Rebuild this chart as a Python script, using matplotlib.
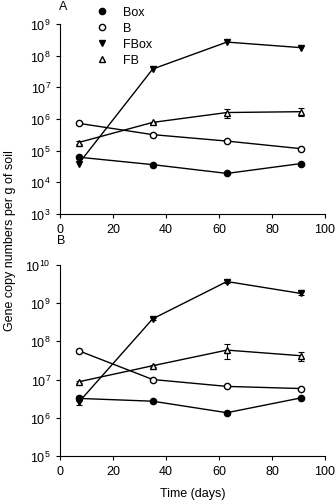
import numpy as np
import matplotlib.pyplot as plt
from matplotlib.lines import Line2D

plt.rcParams['font.family'] = ['Liberation Sans', 'DejaVu Sans']

# sampling days
days = [7, 35, 63, 91]

# panel A
box_a = [6.2e4, 3.6e4, 1.9e4, 3.9e4]
b_a = [7.3e5, 3.2e5, 2.0e5, 1.15e5]
fbox_a = [3.8e4, 3.8e7, 2.7e8, 1.8e8]
fb_a = [1.8e5, 7.8e5, 1.6e6, 1.7e6]
fb_a_err = [0.2e5, 0.5e5, 0.5e6, 0.45e6]

# panel B
box_b = [3.2e6, 2.7e6, 1.35e6, 3.3e6]
box_b_err = [0.5e6, 0.2e6, 0.1e6, 0.2e6]
b_b = [5.7e7, 1.0e7, 6.6e6, 5.8e6]
fbox_b = [2.5e6, 3.9e8, 3.7e9, 1.8e9]
fbox_b_err = [0.4e6, 0.3e8, 0.3e9, 0.15e9]
fb_b = [8.7e6, 2.3e7, 5.9e7, 4.2e7]
fb_b_err = [0.5e6, 1.5e6, 2.4e7, 1.1e7]

fig = plt.figure(figsize=(3.35, 5.02), dpi=100)
ax1 = fig.add_axes([0.179, 0.572, 0.791, 0.378])
ax2 = fig.add_axes([0.179, 0.090, 0.791, 0.380])

styles = [('Box', 'o', 'black'), ('B', 'o', 'white'), ('FBox', 'v', 'black'), ('FB', '^', 'white')]

def draw(ax, box, b, fbox, fb, fb_err, box_err=None, fbox_err=None):
    kw = dict(color='black', lw=1, ms=4.5, capsize=2, elinewidth=0.8, capthick=0.8)
    series = [(box, box_err), (b, None), (fbox, fbox_err), (fb, fb_err)]
    for (name, m, fc), (vals, err) in zip(styles, series):
        ax.errorbar(days, vals, yerr=err, marker=m, mfc=fc, mec='black', label=name, **kw)
    ax.set_yscale('log')
    ax.set_xlim(0, 100)
    ax.set_xticks([0, 20, 40, 60, 80, 100])
    ax.spines['top'].set_visible(False)
    ax.spines['right'].set_visible(False)
    ax.tick_params(labelsize=9, length=3, width=0.8)
    ax.yaxis.set_minor_locator(plt.NullLocator())

draw(ax1, box_a, b_a, fbox_a, fb_a, fb_a_err)
ax1.set_ylim(1e3, 1e9)
ax1.set_yticks([10.0**k for k in range(3, 10)])

draw(ax2, box_b, b_b, fbox_b, fb_b, fb_b_err, box_b_err, fbox_b_err)
ax2.set_ylim(1e5, 1e10)
ax2.set_yticks([10.0**k for k in range(5, 11)])
ax2.set_xlabel('Time (days)', fontsize=9, labelpad=7)

handles = [Line2D([], [], ls='none', marker=m, mfc=fc, mec='black', ms=4.5)
           for name, m, fc in styles]
ax1.legend(handles, [s[0] for s in styles], loc='upper left', bbox_to_anchor=(0.115, 1.12),
           frameon=False, fontsize=9, handlelength=1.0, handletextpad=1.2,
           labelspacing=0.32, borderaxespad=0)

fig.text(0.175, 0.998, 'A', fontsize=9, va='top', ha='left')
fig.text(0.170, 0.532, 'B', fontsize=9, va='top', ha='left')
fig.text(0.03, 0.52, 'Gene copy numbers per g of soil', rotation=90,
         fontsize=9, va='center', ha='center')

fig.savefig('out.png', dpi=100)
